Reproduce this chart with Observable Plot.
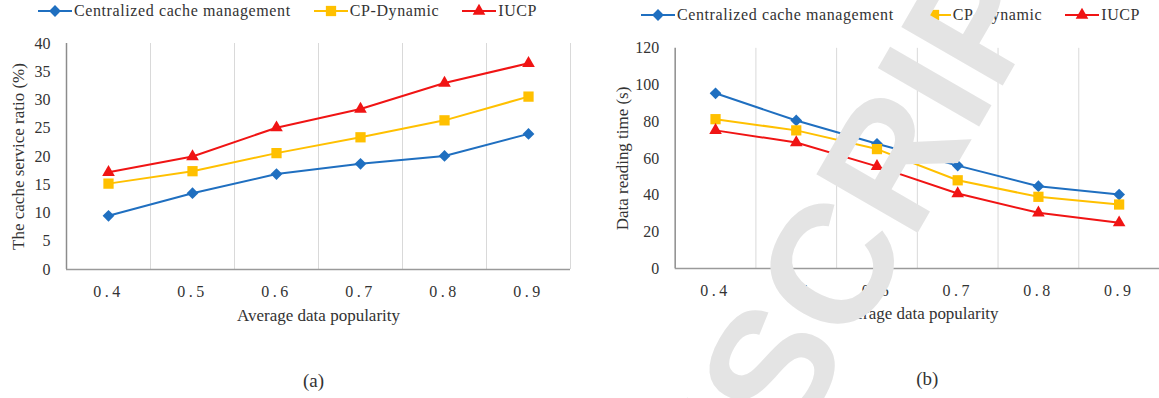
<!DOCTYPE html>
<html>
<head>
<meta charset="utf-8">
<script src="https://cdn.jsdelivr.net/npm/d3@7"></script>
<script src="https://cdn.jsdelivr.net/npm/@observablehq/plot@0.6"></script>
<style>
  html, body { margin: 0; padding: 0; background: #fff; }
  #page { position: relative; width: 1159px; height: 398px; overflow: hidden;
          font-family: "Liberation Serif", "Times New Roman", serif; color: #333; }
  .panel { position: absolute; top: 0; }
  .legend { position: absolute; display: flex; align-items: center; height: 20px;
            font-size: 16px; letter-spacing: 0.6px; white-space: nowrap; }
  .legend .item { display: flex; align-items: center; margin-right: 23px; }
  .legend svg { display: block; margin-right: 2px; }
  g[aria-label="x-axis tick label"] text { letter-spacing: 3.5px; }
  #watermark { position: absolute; left: 0; top: 0; pointer-events: none; }
</style>
</head>
<body>
<div id="page"></div>
<script>
// Average data popularity (x categories)
const popularity = [0.4, 0.5, 0.6, 0.7, 0.8, 0.9];

// Legend / series names
const seriesNames = ["Centralized cache management", "CP-Dynamic", "IUCP"];

// (a) cache service ratio (%)
const ratioCentralized = [9.5, 13.5, 16.9, 18.7, 20.1, 24.0];
const ratioCPDynamic   = [15.2, 17.4, 20.6, 23.4, 26.4, 30.6];
const ratioIUCP        = [17.2, 20.0, 25.1, 28.4, 33.0, 36.5];
const ratioTicks = [0, 5, 10, 15, 20, 25, 30, 35, 40];

// (b) data reading time (s)
const timeCentralized = [95.5, 80.7, 68.0, 56.1, 44.9, 40.3];
const timeCPDynamic   = [81.4, 75.3, 65.1, 48.1, 39.1, 34.9];
const timeIUCP        = [75.3, 68.7, 55.7, 40.9, 30.4, 25.0];
const timeTicks = [0, 20, 40, 60, 80, 100, 120];

const colors  = ["#1f6fc0", "#ffc000", "#f01414"];
const symbols = ["diamond2", "square", "triangle"];
const radii   = [5.3, 5.8, 4.7];
const d3Symbols = [d3.symbolDiamond2, d3.symbolSquare, d3.symbolTriangle];

// category boundaries (vertical grid lines) halfway between categories
const step = popularity[1] - popularity[0];
const xMin = popularity[0] - step / 2;
const xMax = popularity[popularity.length - 1] + step / 2;
const bounds = popularity.map(p => +(p + step / 2).toFixed(2));

const page = d3.select("#page");

function legend(left, top) {
  const lg = page.append("div").attr("class", "legend")
    .style("left", left + "px").style("top", top + "px");
  seriesNames.forEach((name, i) => {
    const item = lg.append("div").attr("class", "item");
    const sw = item.append("svg").attr("width", 34).attr("height", 16);
    sw.append("line").attr("x1", 0).attr("x2", 34).attr("y1", 8).attr("y2", 8)
      .attr("stroke", colors[i]).attr("stroke-width", 2);
    sw.append("path").attr("transform", "translate(17,8)")
      .attr("d", d3.symbol(d3Symbols[i], Math.PI * radii[i] * radii[i])())
      .attr("fill", colors[i]);
    item.append("span").text(name);
  });
}

function panel({left, width, marginLeft, marginRight, marginTop, yDomain, yTicks,
                values, yLabel, yLabelDx, caption, captionDx}) {
  const marks = [
    Plot.ruleX(bounds, {stroke: "#d9d9d9", strokeWidth: 1}),
    Plot.ruleX([xMin], {stroke: "#8c8c8c", strokeWidth: 1.5}),
    Plot.ruleY([0], {stroke: "#9a9a9a", strokeWidth: 1.5}),
    Plot.axisY({ticks: yTicks, tickSize: 0, tickPadding: 16, label: null}),
    Plot.axisX({ticks: popularity, tickSize: 0, tickPadding: 16,
                tickFormat: d => d.toFixed(1), label: null})
  ];
  values.forEach((vals, i) => {
    const rows = popularity.map((p, j) => ({p, v: vals[j]}));
    marks.push(Plot.line(rows, {x: "p", y: "v", stroke: colors[i], strokeWidth: 2}));
    marks.push(Plot.dot(rows, {x: "p", y: "v", symbol: symbols[i], fill: colors[i],
                               stroke: "none", r: radii[i]}));
  });
  marks.push(
    Plot.text(["Average data popularity"], {text: d => d, frameAnchor: "bottom",
      textAnchor: "middle", dy: 51, fontSize: 17}),
    Plot.text([yLabel], {text: d => d, frameAnchor: "left", textAnchor: "middle",
      rotate: -90, dx: yLabelDx, fontSize: 17}),
    Plot.text([caption], {text: d => d, frameAnchor: "bottom", textAnchor: "middle",
      dy: 117, dx: captionDx, fontSize: 19})
  );
  const chart = Plot.plot({
    width, height: 398,
    marginLeft, marginRight, marginTop, marginBottom: 129,
    x: {domain: [xMin, xMax]},
    y: {domain: yDomain},
    style: {fontFamily: '"Liberation Serif", "Times New Roman", serif', fontSize: "16px",
            color: "#333", background: "transparent", overflow: "visible"},
    marks
  });
  page.append("div").attr("class", "panel").style("left", left + "px").node().appendChild(chart);
}

panel({left: 0, width: 575, marginLeft: 66, marginRight: 5, marginTop: 43,
       yDomain: [0, 40], yTicks: ratioTicks,
       values: [ratioCentralized, ratioCPDynamic, ratioIUCP],
       yLabel: "The cache service ratio (%)", yLabelDx: -48, caption: "(a)", captionDx: -5});

panel({left: 580, width: 581, marginLeft: 95, marginRight: 0, marginTop: 48,
       yDomain: [0, 120], yTicks: timeTicks,
       values: [timeCentralized, timeCPDynamic, timeIUCP],
       yLabel: "Data reading time (s)", yLabelDx: -53, caption: "(b)", captionDx: 10});

legend(38, 1);
legend(641, 5);

// manuscript watermark across the right panel
const wm = page.append("svg").attr("id", "watermark").attr("width", 1159).attr("height", 398);
const wmText = wm.append("text")
  .attr("font-family", '"Liberation Sans", Arial, sans-serif')
  .attr("font-size", 170)
  .attr("font-weight", "bold")
  .attr("fill", "#e4e4e4")
  .attr("transform", "translate(794,447) rotate(-60)")
  .text("MANUSCRIPT");
const lead = wmText.node().getSubStringLength(0, "MANU".length);
wmText.attr("x", -lead);
</script>
</body>
</html>
